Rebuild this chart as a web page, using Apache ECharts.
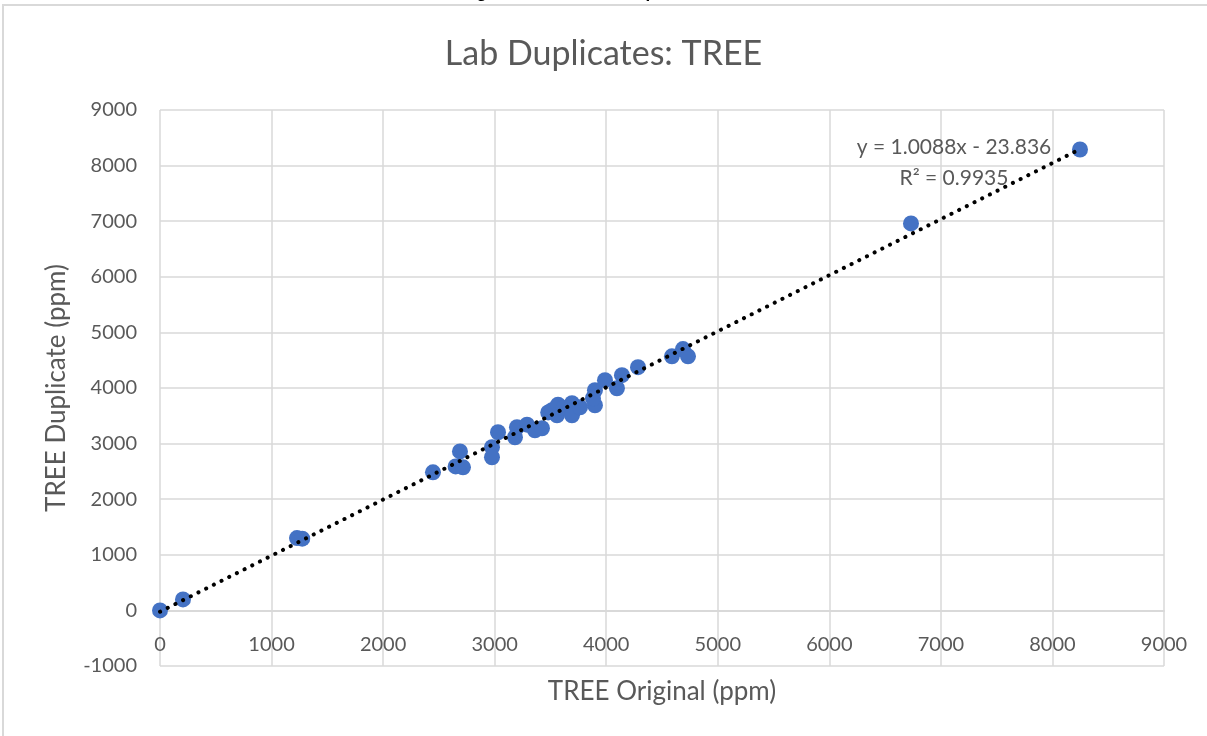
<!DOCTYPE html>
<html>
<head>
<meta charset="utf-8">
<script src="https://cdn.jsdelivr.net/npm/echarts@6/dist/echarts.min.js"></script>
<style>
html,body{margin:0;padding:0;background:#fff;}
#chart{width:1207px;height:736px;}
</style>
</head>
<body>
<div id="chart"></div>
<script>
// Data
const originalPpm = [0, 206, 1228, 1275, 2447, 2650, 2716, 2689, 2976, 2976, 3030, 3200, 3182, 3290, 3361, 3424, 3480, 3514, 3568, 3559, 3620, 3693, 3693, 3765, 3899, 3899, 3881, 3989, 4096, 4141, 4285, 4589, 4688, 4733, 6732, 8247];
const duplicatePpm = [0, 198, 1300, 1290, 2484, 2590, 2574, 2860, 2934, 2754, 3204, 3294, 3114, 3340, 3240, 3276, 3560, 3600, 3700, 3510, 3640, 3726, 3510, 3654, 3960, 3690, 3816, 4140, 3996, 4230, 4374, 4570, 4700, 4570, 6960, 8290];
const trendSlope = 1.0088;
const trendIntercept = -23.836;
const trendRange = [0, 8247];
const xTicks = [0, 1000, 2000, 3000, 4000, 5000, 6000, 7000, 8000, 9000];
const yTicks = [-1000, 0, 1000, 2000, 3000, 4000, 5000, 6000, 7000, 8000, 9000];
const titleText = 'Lab Duplicates: TREE';
const xName = 'TREE Original (ppm)';
const yName = 'TREE Duplicate (ppm)';
const eqText = 'y = 1.0088x - 23.836';
const r2Text = 'R² = 0.9935';

const points = originalPpm.map((x, i) => [x, duplicatePpm[i]]);
const trend = trendRange.map(x => [x, trendSlope * x + trendIntercept]);

const FONT = 'Lato, "Open Sans", sans-serif';
const GREY = '#595959';
const GRID = '#d9d9d9';

const chart = echarts.init(document.getElementById('chart'));
const option = {
  animation: false,
  backgroundColor: '#fff',
  title: {
    text: titleText, left: 'center', top: 32,
    textStyle: {fontFamily: FONT, fontSize: 34, fontWeight: 'normal', color: GREY}
  },
  grid: {left: 160, right: 43, top: 110, bottom: 70, outerBoundsMode: 'none', containLabel: false},
  xAxis: {
    type: 'value', min: xTicks[0], max: xTicks[xTicks.length - 1], interval: 1000,
    name: xName, nameLocation: 'middle', nameGap: 68,
    nameTextStyle: {fontFamily: FONT, fontSize: 26, color: GREY},
    axisLine: {show: true, onZero: false, lineStyle: {color: GRID, width: 2}},
    axisTick: {show: false},
    axisLabel: {fontFamily: FONT, fontSize: 20, color: GREY, margin: 24, formatter: v => String(v)},
    splitLine: {show: true, lineStyle: {color: GRID, width: 1.5}}
  },
  yAxis: {
    type: 'value', min: yTicks[0], max: yTicks[yTicks.length - 1], interval: 1000,
    name: yName, nameLocation: 'middle', nameGap: 90, nameRotate: 90,
    nameTextStyle: {fontFamily: FONT, fontSize: 26, color: GREY},
    axisLine: {show: false},
    axisTick: {show: false},
    axisLabel: {fontFamily: FONT, fontSize: 20, color: GREY, margin: 23, formatter: v => String(v)},
    splitLine: {show: true, lineStyle: {color: GRID, width: 1.5}}
  },
  series: [
    {
      type: 'scatter', data: points, symbol: 'circle', symbolSize: 16,
      itemStyle: {color: '#4472C4', opacity: 1}, z: 2
    },
    {
      type: 'line', data: trend, symbol: 'none', z: 3,
      lineStyle: {color: '#000', width: 4, type: [0.1, 8.5], cap: 'round'}
    }
  ],
  graphic: [
    {type: 'rect', shape: {x: 3, y: 5, width: 1300, height: 900}, style: {fill: 'none', stroke: GRID, lineWidth: 2}, z: -1, silent: true},
    {type: 'text', left: 'center', top: -15, style: {text: 'Figure 8: TREE Lab Duplicates Plot', font: 'bold 17px "Liberation Sans", Arial, sans-serif', fill: '#000'}},
    {type: 'text', x: 954, y: 147, style: {text: eqText, font: '21px ' + FONT, fill: GREY, align: 'center', verticalAlign: 'middle'}, z: 10},
    {type: 'text', x: 954, y: 178, style: {text: r2Text, font: '21px ' + FONT, fill: GREY, align: 'center', verticalAlign: 'middle'}, z: 10}
  ]
};
chart.setOption(option);
// Move x-axis (line + labels) up to y = 0, as in the reference
const yZero = chart.convertToPixel({yAxisIndex: 0}, 0);
const yMin = chart.convertToPixel({yAxisIndex: 0}, yTicks[0]);
chart.setOption({xAxis: {offset: -(yMin - yZero)}});
</script>
</body>
</html>
